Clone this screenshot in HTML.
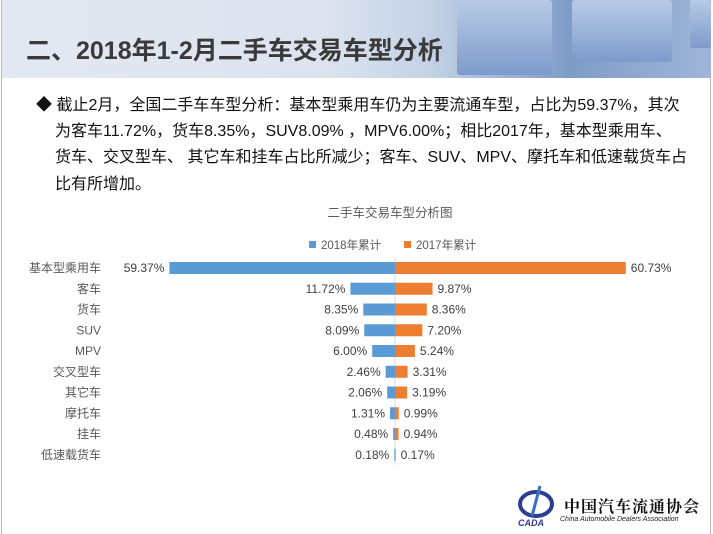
<!DOCTYPE html>
<html><head><meta charset="utf-8"><style>
body{margin:0;width:713px;height:534px;overflow:hidden;background:#fff;font-family:"Liberation Sans","Noto Sans CJK SC",sans-serif;position:relative}
#frame{position:absolute;left:1px;top:0;width:710px;height:534px;border-left:1px solid #bbb;border-right:1px solid #bbb;box-sizing:border-box}
#header{position:absolute;left:2px;top:0;width:709px;height:78px;background:linear-gradient(90deg,#e3e8f1 0%,#dde4ef 45%,#c5d3e6 60%,#7f9cc8 80%,#9fb5d8 100%)}
.box{position:absolute;background:linear-gradient(180deg,#b8cbe6,#7d9bcb);border-radius:3px}
#title{position:absolute;left:26px;top:31px;font-size:25px;font-weight:bold;color:#3a3a3a;white-space:nowrap}
.para{position:absolute;left:36px;font-size:16px;color:#111;white-space:nowrap;line-height:20px}
svg text{font-family:"Liberation Sans","Noto Sans CJK SC",sans-serif}
</style></head><body>
<div id="frame"></div>
<div id="header">
 <div class="box" style="left:455px;top:0;width:95px;height:75px"></div>
 <div class="box" style="left:570px;top:0;width:100px;height:62px"></div>
 <div class="box" style="left:688px;top:0;width:21px;height:48px"></div>
</div>
<div id="title">二、2018年1-2月二手车交易车型分析</div>
<div class="para" style="top:96px">◆&nbsp;截止2月，全国二手车车型分析：基本型乘用车仍为主要流通车型，占比为59.37%，其次</div>
<div class="para" style="top:122px;left:55px">为客车11.72%，货车8.35%，SUV8.09% ，MPV6.00%；相比2017年，基本型乘用车、</div>
<div class="para" style="top:148px;left:55px">货车、交叉型车、 其它车和挂车占比所减少；客车、SUV、MPV、摩托车和低速载货车占</div>
<div class="para" style="top:175px;left:55px">比有所增加。</div>
<svg id="chart" width="713" height="534" style="position:absolute;left:0;top:0">
<text x="390" y="217" text-anchor="middle" font-size="12.5" fill="#595959">二手车交易车型分析图</text>
<rect x="309" y="241" width="7" height="7" fill="#5b9bd5"/>
<text x="321" y="249" font-size="11.5" fill="#595959">2018年累计</text>
<rect x="404" y="241" width="7" height="7" fill="#ed7d31"/>
<text x="416" y="249" font-size="11.5" fill="#595959">2017年累计</text>
<line x1="395" y1="257" x2="395" y2="465" stroke="#d9d9d9"/>
<g id="marks"></g>
</svg>
<div style="position:absolute;left:510px;top:482px;width:200px;height:48px">
 <svg width="50" height="46" style="position:absolute;left:0;top:0"><ellipse cx="26" cy="22" rx="16" ry="12" fill="none" stroke="#2b3e8f" stroke-width="4"/><path d="M30 4 L22 34" stroke="#3a6fc4" stroke-width="3"/><text x="8" y="44" font-size="9" font-weight="bold" font-style="italic" fill="#2b3e8f">CADA</text></svg>
 <div style="position:absolute;left:54px;top:12px;font-size:16px;font-weight:bold;color:#111;white-space:nowrap;letter-spacing:1px;font-family:'Noto Serif CJK SC',serif">中国汽车流通协会</div>
 <div style="position:absolute;left:50px;top:34px;font-size:7px;font-style:italic;color:#222;white-space:nowrap">China Automobile Dealers Association</div>
</div>
<script>
const categories=["基本型乘用车","客车","货车","SUV","MPV","交叉型车","其它车","摩托车","挂车","低速载货车"];
const values2018=[59.37,11.72,8.35,8.09,6.00,2.46,2.06,1.31,0.48,0.18];
const values2017=[60.73,9.87,8.36,7.20,5.24,3.31,3.19,0.99,0.94,0.17];
const NS="http://www.w3.org/2000/svg";
const cx=395,pxPer=3.8,y0=268,step=20.75,bh=12;
const xL=v=>cx-v*pxPer, xR=v=>cx+v*pxPer, yC=i=>y0+i*step;
const g=document.getElementById('marks');
function mk(tag,attrs,txt){const e=document.createElementNS(NS,tag);for(const k in attrs)e.setAttribute(k,attrs[k]);if(txt!=null)e.textContent=txt;g.appendChild(e);return e;}
categories.forEach((c,i)=>{
 const y=yC(i);
 const lab=mk('text',{x:101,y:y+4,'text-anchor':'end','font-size':12,fill:'#595959'},c);
 
 
 const b1=mk('rect',{x:xL(values2018[i]),y:y-bh/2,width:cx-xL(values2018[i]),height:bh,fill:'#5b9bd5'});
 
 
 const b2=mk('rect',{x:cx,y:y-bh/2,width:xR(values2017[i])-cx,height:bh,fill:'#ed7d31'});
 
 
 const t1=mk('text',{x:xL(values2018[i])-5,y:y+4,'text-anchor':'end','font-size':12,fill:'#404040'},values2018[i].toFixed(2)+'%');
 
 
 const t2=mk('text',{x:xR(values2017[i])+5,y:y+4,'font-size':12,fill:'#404040'},values2017[i].toFixed(2)+'%');
 
 
});
</script>
</body></html>
